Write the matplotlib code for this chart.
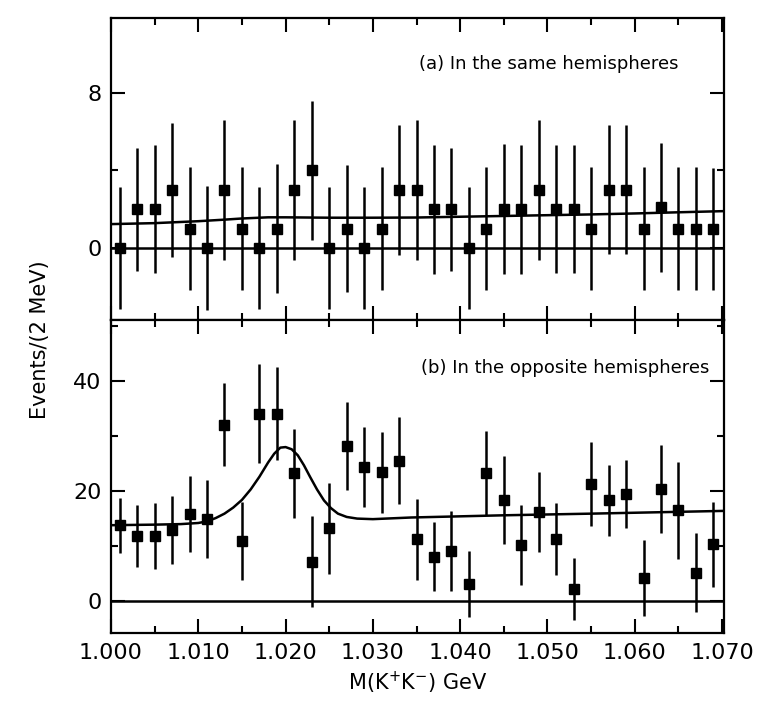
import matplotlib.pyplot as plt
from matplotlib.ticker import MultipleLocator

# bin centres of the 2 MeV bins (GeV)
mass = [1.001, 1.003, 1.005, 1.007, 1.009, 1.011, 1.013, 1.015, 1.017, 1.019,
        1.021, 1.023, 1.025, 1.027, 1.029, 1.031, 1.033, 1.035, 1.037, 1.039,
        1.041, 1.043, 1.045, 1.047, 1.049, 1.051, 1.053, 1.055, 1.057, 1.059,
        1.061, 1.063, 1.065, 1.067, 1.069]

# (a) same hemispheres
same_counts = [0, 2, 2, 3, 1, 0, 3, 1, 0, 1, 3, 4, 0, 1, 0, 1, 3, 3, 2, 2,
               0, 1, 2, 2, 3, 2, 2, 1, 3, 3, 1, 2.1, 1, 1, 1]
same_err = [3.15, 3.17, 3.3, 3.47, 3.17, 3.2, 3.6, 3.17, 3.17, 3.35, 3.6, 3.6,
            3.15, 3.3, 3.15, 3.17, 3.35, 3.6, 3.33, 3.18, 3.17, 3.18, 3.34, 3.33,
            3.6, 3.3, 3.3, 3.17, 3.33, 3.33, 3.17, 3.33, 3.17, 3.17, 3.15]
same_fit_x = [1.000, 1.005, 1.010, 1.013, 1.015, 1.018, 1.020, 1.025, 1.030,
              1.035, 1.040, 1.045, 1.050, 1.055, 1.060, 1.065, 1.0702]
same_fit_y = [1.23, 1.28, 1.38, 1.46, 1.52, 1.58, 1.58, 1.56, 1.56,
              1.57, 1.61, 1.65, 1.69, 1.73, 1.78, 1.84, 1.90]

# (b) opposite hemispheres
opp_counts = [13.8, 11.8, 11.8, 12.9, 15.9, 15.0, 32.1, 11.0, 34.1, 34.1,
              23.2, 7.2, 13.2, 28.2, 24.4, 23.4, 25.5, 11.2, 8.1, 9.1,
              3.2, 23.3, 18.3, 10.2, 16.2, 11.3, 2.2, 21.3, 18.3, 19.4,
              4.2, 20.4, 16.5, 5.2, 10.3]
opp_err = [5.0, 5.6, 6.0, 6.15, 6.9, 7.1, 7.6, 7.1, 9.0, 8.5,
           8.1, 8.3, 8.2, 8.0, 7.3, 7.4, 7.9, 7.4, 6.3, 7.3,
           6.0, 7.7, 8.0, 7.3, 7.2, 6.5, 5.7, 7.6, 6.5, 6.2,
           6.9, 8.0, 8.8, 7.1, 7.8]
opp_fit_x = [1.000, 1.005, 1.008, 1.0100, 1.0110, 1.0120, 1.0130, 1.0140, 1.0150,
             1.0160, 1.0170, 1.0180, 1.0187, 1.0194, 1.0200, 1.0207, 1.0214,
             1.0221, 1.0228, 1.0236, 1.0244, 1.0252, 1.0260, 1.0270, 1.0282,
             1.0300, 1.0344, 1.045, 1.055, 1.0702]
opp_fit_y = [13.8, 13.9, 14.0, 14.2, 14.5, 15.1, 15.9, 17.0, 18.4,
             20.3, 22.6, 25.2, 26.8, 27.9, 28.0, 27.6, 26.5,
             24.7, 22.6, 20.3, 18.3, 16.9, 15.9, 15.3, 15.0,
             14.9, 15.2, 15.6, 15.9, 16.4]

plt.rcParams['font.family'] = ['DejaVu Sans']

fig = plt.figure(figsize=(7.68, 7.05), dpi=100)
ax_a = fig.add_axes([0.1445, 0.5461, 0.798, 0.4284])
ax_b = fig.add_axes([0.1445, 0.1021, 0.798, 0.4440], sharex=ax_a)

for ax, y, e, fx, fy in [(ax_a, same_counts, same_err, same_fit_x, same_fit_y),
                         (ax_b, opp_counts, opp_err, opp_fit_x, opp_fit_y)]:
    ax.errorbar(mass, y, yerr=e, fmt='s', color='black', ms=7,
                elinewidth=1.8, capsize=0)
    ax.plot(fx, fy, color='black', lw=1.8)
    ax.axhline(0, color='black', lw=1.8)
    for s in ax.spines.values():
        s.set_linewidth(1.6)
    ax.tick_params(which='both', direction='in', top=True, right=True,
                   width=1.5, labelsize=16, pad=7)
    ax.tick_params(which='major', length=10)
    ax.tick_params(which='minor', length=5)

ax_a.set_xlim(1.000, 1.0702)
ax_a.xaxis.set_major_locator(MultipleLocator(0.010))
ax_a.xaxis.set_minor_locator(MultipleLocator(0.005))
ax_a.tick_params(axis='x', labelbottom=False)

ax_a.set_ylim(-3.72, 11.87)
ax_a.yaxis.set_major_locator(MultipleLocator(8))
ax_a.yaxis.set_minor_locator(MultipleLocator(4))

ax_b.set_ylim(-5.8, 51.1)
ax_b.yaxis.set_major_locator(MultipleLocator(20))
ax_b.yaxis.set_minor_locator(MultipleLocator(10))
ax_b.xaxis.set_major_formatter(plt.FormatStrFormatter('%.3f'))

ax_a.text(1.0353, 9.5, '(a) In the same hemispheres', fontsize=13,
          ha='left', va='center')
ax_b.text(1.0355, 42.4, '(b) In the opposite hemispheres', fontsize=13,
          ha='left', va='center')

ax_b.set_xlabel(r'M(K$^{+}$K$^{-}$) GeV', fontsize=15, labelpad=5)
fig.text(40 / 768, 1 - 340 / 705, 'Events/(2 MeV)', rotation=90,
         ha='center', va='center', fontsize=15)

fig.savefig('out.png', dpi=100)
